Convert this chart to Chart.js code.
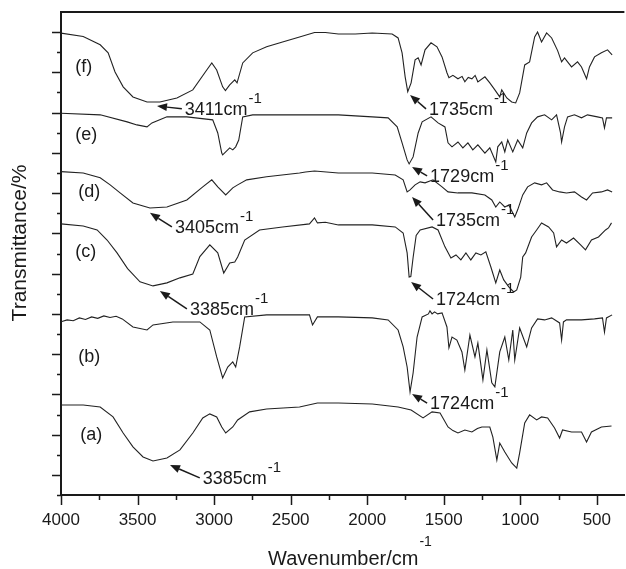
<!DOCTYPE html>
<html>
<head>
<meta charset="utf-8">
<script src="https://cdn.jsdelivr.net/npm/chart.js@4.4.1/dist/chart.umd.min.js"></script>
<style>
  html, body { margin: 0; padding: 0; background: #fff; }
</style>
</head>
<body>
<canvas id="ftirChart" width="626" height="569"></canvas>
<script>
// FTIR spectra, curves (a)..(f) stacked, transmittance in arbitrary offset units
const wnA = [4000,3855,3744,3660,3594,3530,3464,3399,3308,3223,3139,3074,3028,2983,2950,2924,2878,2846,2768,2657,2442,2325,2188,1967,1798,1713,1635,1576,1524,1472,1440,1407,1362,1316,1280,1251,1199,1179,1153,1134,1101,1056,1023,1004,971,939,893,861,821,776,743,724,665,600,567,535,470,404];
const tA  = [4.47,4.47,4.37,3.88,3.08,2.39,1.89,1.69,1.84,2.24,3.08,3.83,4.03,3.88,3.38,3.08,3.38,3.73,4.13,4.27,4.37,4.57,4.57,4.52,4.37,4.22,3.83,4.13,4.08,3.38,3.2,3.08,3.23,3.13,3.3,3.38,3.38,2.88,1.74,2.58,2.14,1.59,1.34,2.09,3.58,3.98,3.73,3.88,3.83,3.33,2.83,3.23,3.13,3.13,2.63,3.13,3.38,3.43];

const wnB = [4000,3960,3920,3880,3840,3800,3760,3720,3680,3640,3600,3530,3438,3399,3269,3093,3028,2983,2944,2911,2878,2859,2833,2800,2657,2377,2357,2325,2188,1967,1863,1798,1765,1739,1720,1700,1674,1641,1600,1590,1576,1560,1540,1511,1479,1466,1446,1414,1381,1362,1329,1296,1277,1244,1218,1186,1166,1134,1101,1075,1049,1036,1004,958,926,887,841,795,743,730,718,698,600,515,463,450,437,400];
const tB  = [8.61,8.70,8.66,8.80,8.72,8.85,8.78,8.90,8.82,8.88,8.75,8.35,8.20,8.45,8.60,8.60,8.20,6.86,5.82,6.36,6.61,6.36,7.36,8.85,8.95,8.95,8.45,8.85,8.85,8.80,8.70,8.20,7.36,6.36,5.12,6.06,7.85,8.85,9.0,9.15,9.0,9.1,9.0,9.05,8.35,7.31,7.85,7.70,7.11,6.21,7.95,6.86,7.55,5.72,7.21,5.57,5.37,7.11,7.85,6.71,8.20,6.71,8.30,7.36,8.30,8.75,8.70,8.80,8.55,7.70,8.6,8.70,8.70,8.75,8.80,8.10,8.80,8.95];

const wnC = [4000,3855,3764,3699,3634,3565,3484,3399,3308,3223,3139,3093,3028,2976,2937,2898,2865,2846,2800,2703,2553,2377,2344,2325,2273,2188,1967,1817,1765,1739,1726,1715,1700,1680,1654,1576,1537,1492,1453,1420,1388,1355,1323,1290,1257,1225,1192,1160,1134,1108,1075,1043,1023,997,984,965,926,893,861,815,782,763,730,698,652,606,574,535,489,443,424,404];
const tC  = [13.47,13.37,13.17,12.67,12.03,11.25,10.59,10.39,10.54,10.79,10.98,11.85,12.43,12.03,11.03,11.53,11.58,11.83,12.67,13.17,13.32,13.47,13.77,13.52,13.55,13.42,13.42,13.32,13.02,12.03,10.83,10.85,11.8,12.9,13.17,13.32,13.17,12.33,11.78,11.93,11.68,12.03,11.68,12.03,11.93,12.08,11.33,10.54,11.18,10.69,10.34,10.09,10.19,10.83,11.83,12.03,12.82,13.17,13.52,13.32,13.02,12.33,12.67,12.52,12.77,12.43,12.18,12.67,12.82,13.17,13.27,13.52];

const wnD = [4000,3855,3744,3679,3614,3530,3419,3308,3178,3074,3015,2976,2924,2878,2846,2787,2657,2442,2403,2344,2188,1967,1817,1765,1739,1720,1687,1654,1622,1570,1511,1472,1407,1316,1231,1186,1160,1134,1101,1075,1036,1017,984,952,906,861,828,789,743,698,646,600,567,528,470,430,400];
const tD  = [16.07,16.00,15.76,15.41,15.01,14.51,14.26,14.31,14.66,15.31,15.66,15.31,14.91,15.26,15.41,15.66,15.81,16.00,16.05,16.10,16.00,16.00,15.90,15.66,15.06,15.16,15.41,15.56,15.51,15.66,15.31,15.06,15.01,15.01,14.91,14.66,14.31,14.56,14.31,14.41,13.82,14.17,14.91,15.31,15.51,15.41,15.51,15.16,15.06,15.01,15.06,14.81,14.66,15.01,15.06,15.16,15.06];

const wnE = [4000,3744,3568,3504,3438,3406,3308,3178,3009,2976,2950,2944,2898,2878,2859,2839,2813,2748,2553,2188,1967,1863,1804,1772,1739,1726,1700,1667,1641,1583,1537,1492,1472,1446,1407,1375,1342,1310,1277,1231,1199,1160,1147,1121,1101,1082,1049,1017,984,958,926,887,841,795,763,737,730,711,691,646,600,561,496,463,450,437,400];
const tE  = [18.97,18.89,18.54,18.39,18.29,18.49,18.79,18.79,18.64,17.99,16.99,16.90,17.25,17.15,17.30,17.64,18.79,18.89,18.89,18.89,18.79,18.74,18.29,17.50,16.65,16.45,16.80,17.99,18.54,18.79,18.49,18.29,17.50,17.30,17.54,17.25,17.50,17.15,17.40,16.99,17.25,16.55,17.30,17.54,17.05,17.64,17.05,17.64,17.25,17.99,18.49,18.79,18.89,18.64,18.89,17.99,17.54,18.29,18.79,18.89,18.74,18.89,18.79,18.74,18.24,18.74,18.74];

const wnF = [4000,3855,3744,3692,3647,3594,3530,3438,3354,3243,3139,3048,3015,2983,2944,2926,2898,2865,2850,2813,2748,2657,2553,2442,2344,2273,2188,2078,1967,1837,1798,1772,1752,1735,1713,1687,1667,1648,1622,1583,1544,1511,1479,1466,1440,1407,1380,1362,1340,1316,1295,1277,1231,1199,1166,1134,1121,1088,1056,1030,1004,971,939,906,887,861,828,795,756,730,711,691,665,626,600,567,548,515,470,430,400];
const tF  = [22.95,22.78,22.37,21.97,21.02,20.28,19.78,19.53,19.53,19.73,20.13,21.12,21.47,21.12,20.28,20.09,20.38,20.63,20.48,21.47,21.97,22.27,22.51,22.76,22.98,22.98,22.91,22.91,22.96,22.91,22.71,21.97,20.78,20.04,20.48,21.62,21.72,21.37,22.12,22.47,22.27,21.77,20.98,20.73,20.85,20.68,20.8,20.53,20.75,20.68,20.85,20.53,20.78,20.48,20.13,19.78,20.13,19.73,19.53,19.48,19.98,21.37,21.52,22.76,23.01,22.51,22.96,22.71,22.08,21.52,21.72,21.52,21.27,21.52,21.27,20.68,21.27,21.77,21.97,22.12,21.87];

const xTickValues = [4000, 3500, 3000, 2500, 2000, 1500, 1000, 500];

// curve labels: [text, wavenumber, level]
const curveLabels = [
  ['(f)', 3907, 21.27], ['(e)', 3907, 17.89], ['(d)', 3887, 15.06],
  ['(c)', 3907, 12.08], ['(b)', 3887, 6.86], ['(a)', 3874, 2.98]
];
// peak notes: [text, tip wn, tip level, text wn, text level]
const peakNotes = [
  ['3411cm', 3373, 19.33, 3191, 18.89],
  ['1735cm', 1720, 19.88, 1596, 18.89],
  ['1729cm', 1707, 16.30, 1589, 15.56],
  ['1735cm', 1707, 14.81, 1550, 13.37],
  ['3405cm', 3419, 14.02, 3256, 13.02],
  ['3385cm', 3354, 10.14, 3158, 8.95],
  ['1724cm', 1713, 10.59, 1550, 9.44],
  ['1724cm', 1707, 5.02, 1589, 4.27],
  ['3385cm', 3288, 1.49, 3074, 0.55]
];

const FONT = '"Liberation Sans", Arial, Helvetica, sans-serif';
const INK = '#1a1a1a';

function pairs(wn, t) {
  return wn.map((w, i) => ({ x: w, y: t[i] }));
}

function supText(ctx, main, sup, x, y, size, supSize, rise) {
  ctx.font = size + 'px ' + FONT;
  ctx.fillText(main, x, y);
  const w = ctx.measureText(main).width;
  ctx.font = supSize + 'px ' + FONT;
  ctx.fillText(sup, x + w + 1, y - rise);
}

const decorPlugin = {
  id: 'decor',
  afterDraw(chart) {
    const { ctx, chartArea: a } = chart;
    const xs = chart.scales.x, ys = chart.scales.y;
    ctx.save();
    ctx.strokeStyle = INK;
    ctx.fillStyle = INK;

    // top frame line
    ctx.lineWidth = 2;
    ctx.beginPath();
    ctx.moveTo(a.left - 1, a.top);
    ctx.lineTo(a.right, a.top);
    ctx.stroke();

    // tick marks, major + minor
    ctx.lineWidth = 1.5;
    ctx.beginPath();
    for (let v = 4000; v >= 500; v -= 250) {
      const px = Math.round(xs.getPixelForValue(v)) + 0.5;
      const len = v % 500 === 0 ? 10 : 5;
      ctx.moveTo(px, a.bottom);
      ctx.lineTo(px, a.bottom + len);
    }
    for (let v = 0; v < 24; v++) {
      const py = Math.round(ys.getPixelForValue(v)) + 0.5;
      const len = v % 2 === 1 ? 9 : 4;
      ctx.moveTo(a.left, py);
      ctx.lineTo(a.left - len, py);
    }
    ctx.stroke();

    // curve labels
    ctx.font = '18px ' + FONT;
    ctx.textAlign = 'left';
    ctx.textBaseline = 'middle';
    curveLabels.forEach(([txt, w, v]) => {
      ctx.fillText(txt, xs.getPixelForValue(w), ys.getPixelForValue(v));
    });

    // peak notes with arrows
    ctx.textBaseline = 'alphabetic';
    peakNotes.forEach(([txt, tw, tv, lw, lv]) => {
      const tipX = xs.getPixelForValue(tw), tipY = ys.getPixelForValue(tv);
      const tx = xs.getPixelForValue(lw), ty = ys.getPixelForValue(lv);
      const tailX = tx - 3, tailY = ty - 6;
      const ang = Math.atan2(tipY - tailY, tipX - tailX);
      const hl = 10, hw = 4;
      const bx = tipX - hl * Math.cos(ang), by = tipY - hl * Math.sin(ang);
      ctx.lineWidth = 1.5;
      ctx.beginPath();
      ctx.moveTo(tailX, tailY);
      ctx.lineTo(bx, by);
      ctx.stroke();
      ctx.beginPath();
      ctx.moveTo(tipX, tipY);
      ctx.lineTo(bx + hw * Math.sin(ang), by - hw * Math.cos(ang));
      ctx.lineTo(bx - hw * Math.sin(ang), by + hw * Math.cos(ang));
      ctx.closePath();
      ctx.fill();
      supText(ctx, txt, '-1', tx, ty, 18, 15, 12);
    });

    // axis titles
    ctx.textAlign = 'left';
    supText(ctx, 'Wavenumber/cm', '-1', 268, 565, 20, 14, 19);
    ctx.save();
    ctx.translate(20, 243);
    ctx.rotate(-Math.PI / 2);
    ctx.textAlign = 'center';
    ctx.textBaseline = 'middle';
    ctx.font = '21px ' + FONT;
    ctx.fillText('Transmittance/%', 0, 0);
    ctx.restore();

    ctx.restore();
  }
};

const series = [[wnA, tA], [wnB, tB], [wnC, tC], [wnD, tD], [wnE, tE], [wnF, tF]];

const ftirCtx = document.getElementById('ftirChart');
const ftirChart = new Chart(ftirCtx, {
  type: 'line',
  data: {
    datasets: series.map(([wn, t]) => ({
      data: pairs(wn, t),
      borderColor: '#222',
      borderWidth: 1.1,
      pointRadius: 0,
      tension: 0,
      fill: false
    }))
  },
  options: {
    responsive: false,
    animation: false,
    devicePixelRatio: 1,
    layout: { padding: { top: 12, right: 0, bottom: 0, left: 0 } },
    plugins: {
      legend: { display: false },
      tooltip: { enabled: false }
    },
    scales: {
      x: {
        type: 'linear',
        reverse: true,
        min: 320,
        max: 4000,
        afterBuildTicks: s => { s.ticks = xTickValues.map(v => ({ value: v })); },
        afterFit: s => { s.height = 74; },
        ticks: {
          callback: v => String(v),
          font: { family: FONT, size: 17 },
          color: INK,
          padding: 15,
          maxRotation: 0,
          autoSkip: false
        },
        grid: { display: false, drawTicks: false },
        border: { display: true, color: INK, width: 2 }
      },
      y: {
        min: 0,
        max: 24,
        afterFit: s => { s.width = 61; },
        ticks: { display: false },
        grid: { display: false, drawTicks: false },
        border: { display: true, color: INK, width: 2 }
      }
    }
  },
  plugins: [decorPlugin]
});
</script>
</body>
</html>
